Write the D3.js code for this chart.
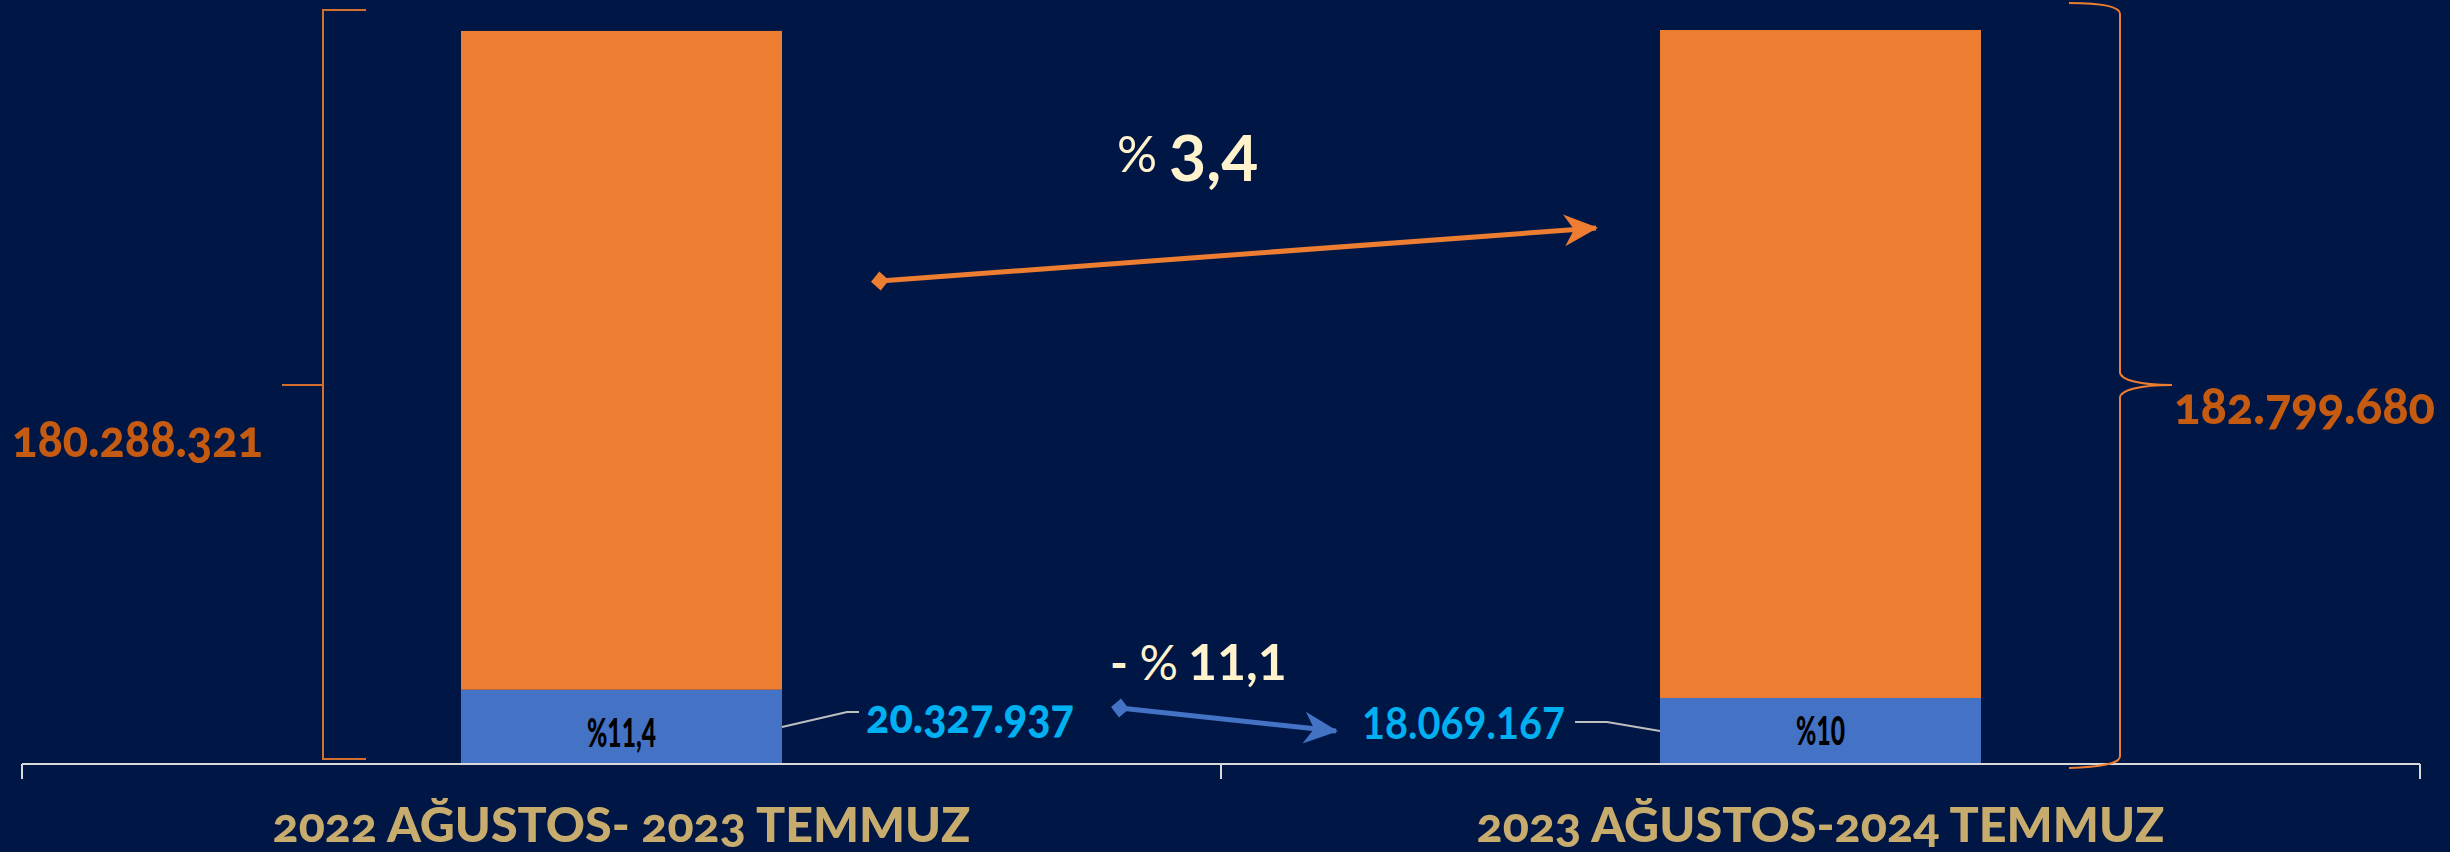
<!DOCTYPE html>
<html>
<head>
<meta charset="utf-8">
<script src="https://cdn.jsdelivr.net/npm/d3@7"></script>
<style>
  html, body { margin: 0; padding: 0; background: #001746; }
  svg { display: block; font-family: Lato, "Open Sans", sans-serif; }
</style>
</head>
<body>
<div id="chart"></div>
<script>
// periods on the x axis
const categories = ['2022 AĞUSTOS- 2023 TEMMUZ', '2023 AĞUSTOS-2024 TEMMUZ'];
// stacked series: blue at the bottom, orange on top
const blueValues = [20327937, 18069167];
const orangeValues = [180288321, 182799680];
const shareLabels = ['%11,4', '%10'];
// change between the two periods
const orangeChange = '3,4';
const blueChange = '11,1';

const width = 2450, height = 852;
const margin = { top: 30, bottom: 88, left: 22, right: 30 };

const fmt = d3.formatLocale({ decimal: ',', thousands: '.', grouping: [3], currency: ['', ''] }).format(',d');

const rows = categories.map((c, i) => ({ cat: c, blue: blueValues[i], orange: orangeValues[i] }));
const series = d3.stack().keys(['blue', 'orange'])(rows);

const svg = d3.select('#chart').append('svg')
    .attr('width', width)
    .attr('height', height);

svg.append('rect').attr('width', width).attr('height', height).attr('fill', '#001746');

const x = d3.scaleBand()
    .domain(categories)
    .range([margin.left, width - margin.right])
    .padding(0);

const y = d3.scaleLinear()
    .domain([0, d3.max(rows, d => d.blue + d.orange)])
    .range([height - margin.bottom, margin.top]);

const barW = 321;
const barX = c => x(c) + x.bandwidth() / 2 - barW / 2;
const colors = { blue: '#4472C4', orange: '#ED7D31' };

// bars
svg.append('g').selectAll('g')
    .data(series)
    .join('g')
    .attr('fill', d => colors[d.key])
    .selectAll('rect')
    .data(d => d)
    .join('rect')
    .attr('x', d => barX(d.data.cat))
    .attr('y', d => y(d[1]))
    .attr('width', barW)
    .attr('height', d => y(d[0]) - y(d[1]));

// share labels inside the blue part
svg.append('g').selectAll('text')
    .data(rows)
    .join('text')
    .attr('x', d => x(d.cat) + x.bandwidth() / 2)
    .attr('y', (d, i) => i === 0 ? 747 : 745)
    .attr('text-anchor', 'middle')
    .attr('font-size', 40)
    .attr('font-weight', 900)
    .attr('fill', '#000')
    .attr('textLength', (d, i) => i === 0 ? 69 : 49)
    .attr('lengthAdjust', 'spacingAndGlyphs')
    .text((d, i) => shareLabels[i]);

// x axis: base line and ticks at band edges
const y0 = y(0);
const axis = svg.append('g').attr('stroke', '#D9D9D9').attr('stroke-width', 2);
axis.append('line')
    .attr('x1', x.range()[0]).attr('x2', x.range()[1])
    .attr('y1', y0).attr('y2', y0);
const edges = [x.range()[0]].concat(categories.map(c => x(c) + x.bandwidth()));
axis.selectAll('.tick')
    .data(edges)
    .join('line')
    .attr('class', 'tick')
    .attr('x1', d => d).attr('x2', d => d)
    .attr('y1', y0).attr('y2', y0 + 15);

svg.append('g').selectAll('text')
    .data(categories)
    .join('text')
    .attr('x', d => x(d) + x.bandwidth() / 2)
    .attr('y', 842)
    .attr('text-anchor', 'middle')
    .attr('font-size', 48)
    .attr('font-weight', 900)
    .attr('fill', '#C7AC6E')
    .style('font-variant-numeric', 'oldstyle-nums')
    .attr('textLength', (d, i) => i === 0 ? 698 : 688)
    .attr('lengthAdjust', 'spacingAndGlyphs')
    .text(d => d);

// left bracket and total
const b1 = barX(categories[0]);
const top0 = y(rows[0].blue + rows[0].orange);
const lx = b1 - 138;
svg.append('path')
    .attr('d', `M${lx + 43},${top0 - 21} H${lx} V${y0 - 5} H${lx + 43} M${lx},385 H${lx - 41}`)
    .attr('fill', 'none')
    .attr('stroke', '#D4702F')
    .attr('stroke-width', 2);

svg.append('text')
    .attr('x', 12).attr('y', 457)
    .attr('font-size', 52).attr('font-weight', 900)
    .attr('fill', '#C55A11')
    .style('font-variant-numeric', 'oldstyle-nums')
    .attr('textLength', 251).attr('lengthAdjust', 'spacingAndGlyphs')
    .text(fmt(orangeValues[0]));

// right curly brace and total
const b2 = barX(categories[1]) + barW;
const rx = b2 + 139;
svg.append('path')
    .attr('d', `M${rx - 51},3 C${rx - 20},3 ${rx},6 ${rx},14 V372 C${rx},380 ${rx + 20},385 ${rx + 52},385 ` +
        `C${rx + 20},385 ${rx},390 ${rx},398 V756 C${rx},764 ${rx - 20},767 ${rx - 51},768`)
    .attr('fill', 'none')
    .attr('stroke', '#ED7D31')
    .attr('stroke-width', 2);

svg.append('text')
    .attr('x', 2174).attr('y', 424)
    .attr('font-size', 52).attr('font-weight', 900)
    .attr('fill', '#C55A11')
    .style('font-variant-numeric', 'oldstyle-nums')
    .attr('textLength', 261).attr('lengthAdjust', 'spacingAndGlyphs')
    .text(fmt(orangeValues[1]));

// blue values with leader lines
const r1 = b1 + barW;
const l2 = barX(categories[1]);
svg.append('path')
    .attr('d', `M${r1},727 L${r1 + 65},712 H${r1 + 77}`)
    .attr('fill', 'none').attr('stroke', '#BFBFBF').attr('stroke-width', 2);
svg.append('path')
    .attr('d', `M${l2},731 L${l2 - 53},722 H${l2 - 85}`)
    .attr('fill', 'none').attr('stroke', '#BFBFBF').attr('stroke-width', 2);

svg.append('text')
    .attr('x', r1 + 84).attr('y', 733)
    .attr('font-size', 48).attr('font-weight', 900)
    .attr('fill', '#00B0F0')
    .style('font-variant-numeric', 'oldstyle-nums')
    .attr('textLength', 208).attr('lengthAdjust', 'spacingAndGlyphs')
    .text(fmt(blueValues[0]));

svg.append('text')
    .attr('x', l2 - 95).attr('y', 739)
    .attr('text-anchor', 'end')
    .attr('font-size', 44).attr('font-weight', 700)
    .attr('fill', '#00B0F0')
    .attr('textLength', 203).attr('lengthAdjust', 'spacingAndGlyphs')
    .text(fmt(blueValues[1]));

// arrows
const defs = svg.append('defs');
function markers(id, color) {
    defs.append('marker')
        .attr('id', id + '-head')
        .attr('viewBox', '0 -17 34 34')
        .attr('refX', 32).attr('refY', 0)
        .attr('markerUnits', 'userSpaceOnUse')
        .attr('markerWidth', 34).attr('markerHeight', 34)
        .attr('orient', 'auto')
        .append('path')
        .attr('d', 'M0,-16 L34,0 L0,16 L10,0 Z')
        .attr('fill', color);
    defs.append('marker')
        .attr('id', id + '-tail')
        .attr('viewBox', '-10 -10 20 20')
        .attr('refX', 0).attr('refY', 0)
        .attr('markerUnits', 'userSpaceOnUse')
        .attr('markerWidth', 20).attr('markerHeight', 20)
        .attr('orient', 'auto')
        .append('path')
        .attr('d', 'M-9,0 L0,-9.5 L9,0 L0,9.5 Z')
        .attr('fill', color);
}
markers('orange', '#ED7D31');
markers('blue', '#4472C4');

svg.append('line')
    .attr('x1', 880).attr('y1', 281).attr('x2', 1596).attr('y2', 228)
    .attr('stroke', '#ED7D31').attr('stroke-width', 5)
    .attr('marker-start', 'url(#orange-tail)')
    .attr('marker-end', 'url(#orange-head)');

svg.append('line')
    .attr('x1', 1120).attr('y1', 708).attr('x2', 1336).attr('y2', 731)
    .attr('stroke', '#4472C4').attr('stroke-width', 5)
    .attr('marker-start', 'url(#blue-tail)')
    .attr('marker-end', 'url(#blue-head)');

// change labels
const t1 = svg.append('text')
    .attr('x', 1117).attr('y', 181)
    .attr('fill', '#FFF2CC');
t1.append('tspan').attr('font-size', 50).attr('dy', -9).text('%');
t1.append('tspan').attr('font-size', 64).attr('font-weight', 700).attr('dx', 12).attr('dy', 9).text(orangeChange);

const t2 = svg.append('text')
    .attr('x', 1110).attr('y', 680)
    .attr('fill', '#FFF2CC');
t2.append('tspan').attr('font-size', 48).attr('font-weight', 700).text('- ');
t2.append('tspan').attr('font-size', 48).text('%');
t2.append('tspan').attr('font-size', 50).attr('font-weight', 700).attr('dx', 10).text(blueChange);
</script>
</body>
</html>
